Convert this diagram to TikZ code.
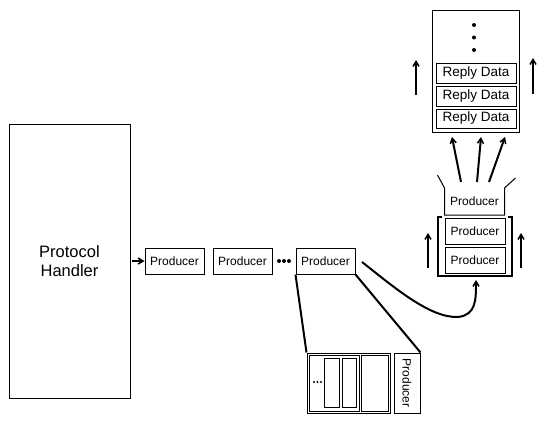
\documentclass[tikz,border=0pt]{standalone}
\usepackage{fontspec}
\setmainfont{Liberation Sans}
\usetikzlibrary{arrows.meta}
\begin{document}
\begin{tikzpicture}[x=1pt,y=-1pt,
  box/.style={draw,line width=1pt,inner sep=0pt,font=\fontsize{12}{14}\selectfont},
  prod/.style={box,minimum width=59pt,minimum height=26pt},
  rd/.style={box,minimum width=80pt,minimum height=20pt,font=\fontsize{13.5}{15}\selectfont},
  thin/.style={line width=1pt},
  thick/.style={line width=2pt},
  arr/.style={line width=2pt,-{Straight Barb[length=5pt,width=6pt,line width=1.5pt]}},
  dot/.style={fill,circle,inner sep=0pt,minimum size=4pt}
]
\useasboundingbox (0,0) rectangle (553,428);
\fill[white] (0,0) rectangle (553,428);
% Protocol handler
\node[box,minimum width=121pt,minimum height=274pt,align=center,font=\fontsize{16.5}{19}\selectfont] (ph) at (69.5,261) {Protocol\\Handler};
% producer row
\node[prod] (p1) at (174.5,261) {Producer};
\node[prod] (p2) at (242.5,261) {Producer};
\node[prod] (p3) at (325.5,261) {Producer};
\node[dot] (d1) at (279,261) {};
\node[dot] (d2) at (284,261) {};
\node[dot] (d3) at (289,261) {};
\coordinate (phs) at (132,261);
\draw[arr] (phs) -- (p1.west);
% bottom structure
\node[draw,thin,minimum width=83pt,minimum height=60pt,inner sep=0pt] (bigbox) at (348.5,383) {};
\draw[thin] (309,355) rectangle (359,411);
\draw[thin] (361,355) rectangle (388,411);
\node[draw,thin,minimum width=15pt,minimum height=49pt,inner sep=0pt] (s1) at (331.5,382.5) {};
\node[draw,thin,minimum width=14pt,minimum height=49pt,inner sep=0pt] (s2) at (349,382.5) {};
\node[dot,minimum size=2.2pt] (el1) at (314,382) {};
\node[dot,minimum size=2.2pt] (el2) at (317.5,382) {};
\node[dot,minimum size=2.2pt] (el3) at (321,382) {};
\node[box,minimum width=26pt,minimum height=60pt] (vp) at (407,383) {};
\node[rotate=-90,font=\fontsize{12}{14}\selectfont,inner sep=0pt] (vpt) at (vp.center) {Producer};
\draw[thick] (p3.south west) -- (bigbox.north west);
\draw[thick] (p3.south east) -- (vp.north east);
% right group
\node[prod,draw=none] (tp) at (474.5,201.5) {Producer};
\draw[thin] ([shift={(-7,-13)}]tp.north west) -- (tp.north west) -- (tp.south west) -- (tp.south east) -- (tp.north east) -- ([shift={(11,-10)}]tp.north east);
\node[prod,minimum width=60pt] (q1) at (475,231) {Producer};
\node[prod,minimum width=60pt] (q2) at (475,260) {Producer};
\coordinate (gbl) at (438,276);
\coordinate (gbr) at (512,276);
\coordinate (gb) at (476,280);
\draw[thick] (442,217) -- (438,217) -- (gbl) -- (gbr) -- (512,217) -- (508,217);
\coordinate (la1) at (428,268); \coordinate (la2) at (428,233);
\coordinate (ra1) at (521,268); \coordinate (ra2) at (521,233);
\draw[arr] (la1) -- (la2);
\draw[arr] (ra1) -- (ra2);
% curve
\coordinate (cs) at (362,262);
\draw[thick,-{Straight Barb[length=5pt,width=6pt,line width=1.5pt]}] (cs) .. controls (395,288) and (430,318) .. (458,317) .. controls (476,315) and (476,300) .. (gb);
% reply box
\node[box,minimum width=87pt,minimum height=121pt] (rb) at (475.5,71.5) {};
\node[rd] (r1) at (476,73) {Reply Data};
\node[rd] (r2) at (476,96) {Reply Data};
\node[rd,minimum height=19pt] (r3) at (476,118.5) {Reply Data};
\node[dot] (e1) at (474,25) {};
\node[dot] (e2) at (474,37.5) {};
\node[dot] (e3) at (474,50) {};
\coordinate (u1) at (461,182); \coordinate (v1) at (452,137);
\coordinate (u2) at (477,182); \coordinate (v2) at (481,137);
\coordinate (u3) at (489,182); \coordinate (v3) at (505,137);
\draw[arr] (u1) -- (v1);
\draw[arr] (u2) -- (v2);
\draw[arr] (u3) -- (v3);
\coordinate (lb1) at (416,95); \coordinate (lb2) at (416,60);
\coordinate (rb1) at (533,94); \coordinate (rb2) at (533,58);
\draw[arr] (lb1) -- (lb2);
\draw[arr] (rb1) -- (rb2);
\end{tikzpicture}
\end{document}
